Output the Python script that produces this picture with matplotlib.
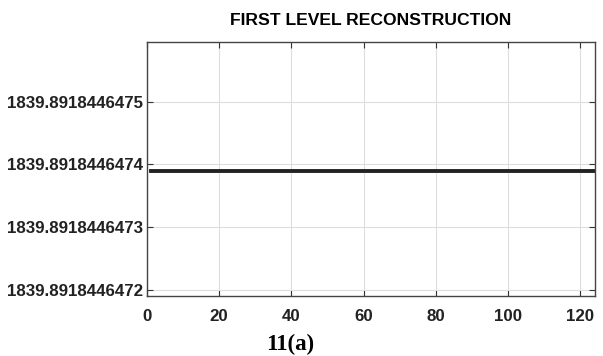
import matplotlib
matplotlib.use("Agg")
import matplotlib.pyplot as plt
from matplotlib.ticker import FormatStrFormatter

# data: a flat reconstruction signal
n_samples = 124
x = list(range(1, n_samples + 1))
level = 1839.89184464739
y = [level] * n_samples

yticks = [1839.8918446472, 1839.8918446473, 1839.8918446474, 1839.8918446475]
xticks = [0, 20, 40, 60, 80, 100, 120]

sans = ['Liberation Sans', 'DejaVu Sans']

fig = plt.figure(figsize=(6.03, 3.56), dpi=100)
ax = fig.add_axes([0.2438, 0.1685, 0.7429, 0.7135])

ax.plot(x, y, color='#222222', lw=2.8)

ax.set_xlim(0, 124.1)
ax.set_ylim(1839.89184464719, 1839.891844647595)
ax.set_xticks(xticks)
ax.set_yticks(yticks)
ax.yaxis.set_major_formatter(FormatStrFormatter('%.10f'))

for lab in ax.get_xticklabels() + ax.get_yticklabels():
    lab.set_family(sans)
    lab.set_fontweight('bold')
    lab.set_fontsize(12.2)
    lab.set_color('#222222')

ax.tick_params(direction='in', length=4, width=0.8, top=True, right=True,
               color='#333333', pad=3)
ax.tick_params(axis='x', pad=9)
ax.grid(True, color='#dddddd', lw=0.8)
for s in ax.spines.values():
    s.set_color('#444444')
    s.set_linewidth(1.0)

ax.set_title('FIRST LEVEL RECONSTRUCTION', family=sans, fontweight='bold',
             fontsize=12.6, pad=12)

fig.text(0.481, 0.016, '11(a)', family='Liberation Serif', fontweight='bold',
         fontsize=16.5, ha='center', va='baseline')

fig.savefig('out.png', dpi=100)
